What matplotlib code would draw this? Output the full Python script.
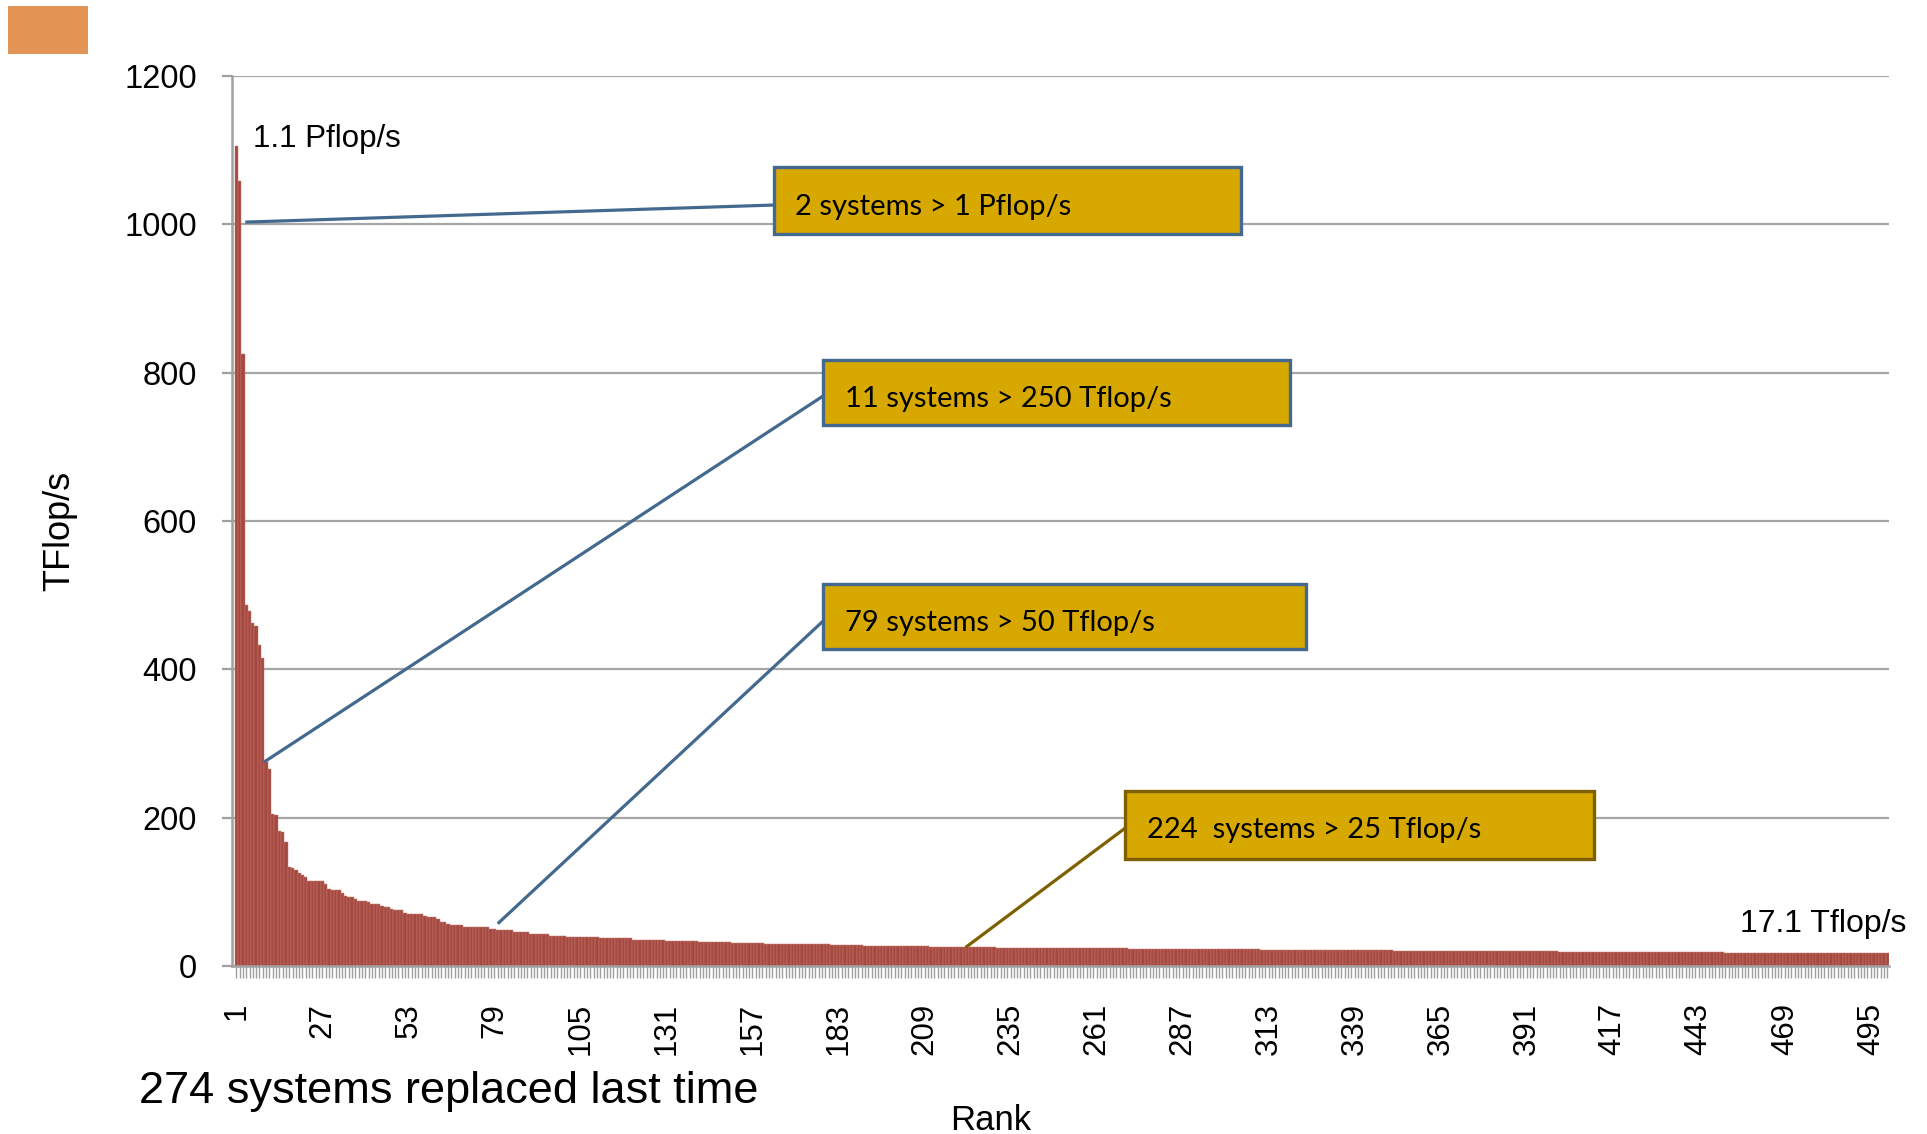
import numpy as np
import matplotlib.pyplot as plt
from matplotlib.patches import Rectangle

# TOP500 performance by rank (TFlop/s)
top_values = [1105, 1059, 825.5, 487, 478, 463, 458, 433, 415, 275, 266,
              205, 204, 182, 181, 167]
# (value, number of consecutive ranks) for ranks 17-100
mid_runs = [(133, 1), (132, 1), (130, 1), (126, 1), (123, 1), (120, 1),
            (115, 5), (110, 1), (104, 1), (102, 3), (98, 1), (95, 1),
            (93, 2), (90, 1), (88, 3), (86, 1), (83, 3), (81, 1), (79, 2),
            (77, 1), (75, 3), (72, 1), (70, 5), (68, 1), (66, 3), (63, 1),
            (60, 2), (57, 1), (55, 4), (52, 8), (50.5, 2), (48, 5), (46, 5),
            (43, 6), (41, 5)]
# ranks 101-500, one value per block of 10 ranks
tail_blocks = [39.5, 38, 35, 33.5, 32.5, 31, 30, 29, 28.3, 27.5,
               27, 26.2, 25.2, 24.8, 24.4, 24, 23.6, 23.2, 22.9, 22.6,
               22.3, 22, 21.7, 21.4, 21.1, 20.8, 20.5, 20.2, 19.9, 19.6,
               19.3, 19.0, 18.8, 18.5, 18.3, 18.0, 17.8, 17.6, 17.4, 17.1]

perf = list(top_values)
for v, n in mid_runs:
    perf += [v] * n
for v in tail_blocks:
    perf += [v] * 10
perf = np.array(perf)
ranks = np.arange(1, len(perf) + 1)
label_ranks = list(range(1, 501, 26))

callouts = [
    # text, box (x0, x1, y0, y1), line (x0, y0, x1, y1), text baseline y, edge colour
    ("2 systems > 1 Pflop/s", (163.4, 304.8, 987.2, 1077.1), (3.7, 1003, 163.4, 1026), 1012.8, "#43698E"),
    ("11 systems > 250 Tflop/s", (178.4, 319.4, 729.6, 817.3), (9.4, 275, 178.4, 768.7), 753.9, "#43698E"),
    ("79 systems > 50 Tflop/s", (178.4, 324.2, 427.5, 515.2), (80, 57, 178.4, 465.3), 451.8, "#43698E"),
    ("224  systems > 25 Tflop/s", (269.7, 411.3, 144.3, 236.0), (221.4, 25, 269.7, 186.1), 172.2, "#7F6000"),
]

plt.rcParams['font.family'] = ['Liberation Sans', 'DejaVu Sans']
fig = plt.figure(figsize=(19.27, 11.34), dpi=100)
W, H = 1927, 1134
ax = fig.add_axes([232 / W, 1 - 966 / H, (1889 - 232) / W, (966 - 76) / H])

ax.bar(ranks, perf, width=1.0, color='#A5483F', edgecolor='#C27D73',
       linewidth=0.35, zorder=2)

ax.set_xlim(-0.3, 500.5)
ax.set_ylim(0, 1200)
ax.set_yticks(range(0, 1201, 200))
ax.yaxis.grid(True, color='#A6A6A6', linewidth=1.6, zorder=0)
ax.set_axisbelow(True)

for s in ['top', 'right']:
    ax.spines[s].set_visible(False)
for s in ['left', 'bottom']:
    ax.spines[s].set_color('#A0A0A0')
    ax.spines[s].set_linewidth(1.8)

ax.set_xticks(ranks, minor=True)
ax.set_xticks(label_ranks)
ax.set_xticklabels([str(r) for r in label_ranks], rotation=90, fontsize=22.5)
ax.tick_params(axis='x', which='both', length=8.6, width=1.0, color='#A0A0A0',
               direction='out')
ax.tick_params(axis='x', which='major', pad=18)
ax.tick_params(axis='y', length=7.2, width=1.6, color='#A0A0A0', pad=18,
               labelsize=23.5)

for text, (bx0, bx1, by0, by1), (lx0, ly0, lx1, ly1), ty, ec in callouts:
    ax.plot([lx0, lx1], [ly0, ly1], color=ec, linewidth=2.3, clip_on=False,
            zorder=4, solid_capstyle='butt')
    ax.add_patch(Rectangle((bx0, by0), bx1 - bx0, by1 - by0, facecolor='#D6A800',
                           edgecolor=ec, linewidth=2.4, clip_on=False, zorder=5))
    ax.text(bx0 + 6.6, ty, text, fontsize=21, family=['Lato', 'DejaVu Sans'],
            va='baseline', ha='left', zorder=6, color='black')

fig.text(253 / W, 1 - 146.7 / H, "1.1 Pflop/s", fontsize=22.5, va='baseline', ha='left')
fig.text(1906 / W, 1 - 931.7 / H, "17.1 Tflop/s", fontsize=23, va='baseline', ha='right')
fig.text(60 / W, 1 - 531 / H, "TFlop/s", fontsize=26, rotation=90, va='center', ha='center')
fig.text(991 / W, 1 - 1130 / H, "Rank", fontsize=25, va='baseline', ha='center')
fig.text(139 / W, 1 - 1103.3 / H, "274 systems replaced last time", fontsize=32.5,
         va='baseline', ha='left')

fig.patches.append(Rectangle((8 / W, 1 - 54 / H), 80 / W, 48 / H, facecolor='#E39455',
                             edgecolor='none', transform=fig.transFigure, figure=fig))

fig.savefig('out.png', dpi=100)
plt.close(fig)
